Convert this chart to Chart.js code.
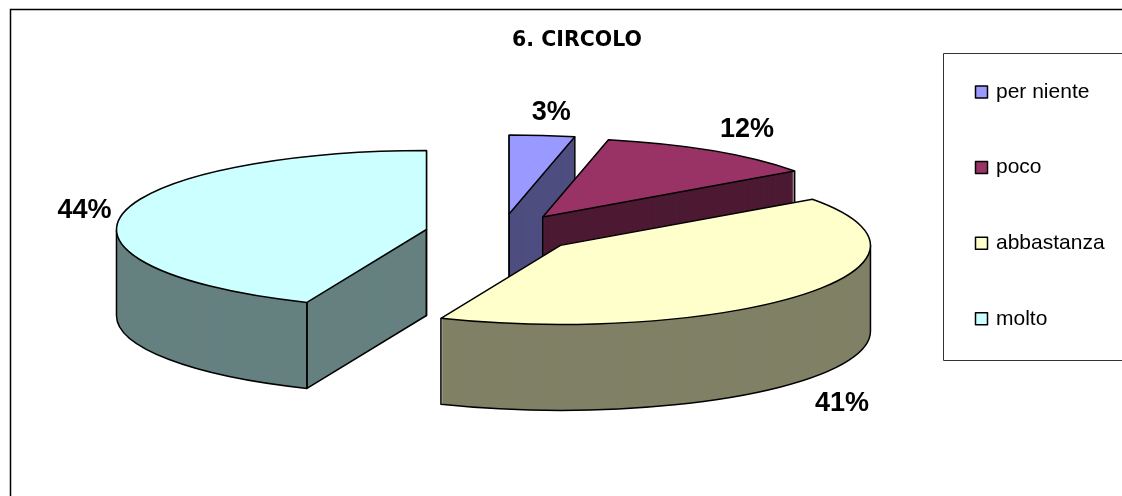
<!DOCTYPE html>
<html>
<head>
<meta charset="utf-8">
<style>html,body{margin:0;padding:0;background:#fff}canvas{display:block}</style>
<script src="https://cdn.jsdelivr.net/npm/chart.js@4"></script>
</head>
<body>
<canvas id="c" width="1122" height="496"></canvas>
<script>
const titleText = '6. CIRCOLO';
const categories = ['per niente', 'poco', 'abbastanza', 'molto'];
const values = [3.4, 11.7, 41.2, 43.7];
const topColors = ['#9999ff', '#993366', '#ffffcc', '#ccffff'];
const sideColors = ['#4d4d80', '#4d1a33', '#808066', '#668080'];

const SQUASH = 0.255, EXPLODE = 76, DEPTH = 86, RADIUS = 310;
const paintOrder = [0, 1, 3, 2];
const labelNudge = [[9, -23], [34, -21], [39, 109], [-38, -3]];
const LINE = '#000';

function geom(arc) {
  const mid = (arc.startAngle + arc.endAngle) / 2;
  return {
    ax: arc.x + Math.cos(mid) * EXPLODE,
    ay: arc.y + Math.sin(mid) * EXPLODE * SQUASH,
    dx: Math.cos(mid) * EXPLODE,
    dy: Math.sin(mid) * EXPLODE,
    mid, rx: arc.outerRadius, ry: arc.outerRadius * SQUASH,
    s: arc.startAngle, e: arc.endAngle
  };
}
function sector(ctx, g, d) {
  ctx.beginPath();
  ctx.moveTo(g.ax, g.ay + d);
  ctx.ellipse(g.ax, g.ay + d, g.rx, g.ry, 0, g.s, g.e);
  ctx.closePath();
}
function rimPoint(g, a) {
  return [g.ax + Math.cos(a) * g.rx, g.ay + Math.sin(a) * g.ry];
}
function strokeWall(ctx, g, a) {
  const p = rimPoint(g, a);
  ctx.beginPath();
  ctx.moveTo(g.ax, g.ay);
  ctx.lineTo(g.ax, g.ay + DEPTH);
  ctx.lineTo(p[0], p[1] + DEPTH);
  ctx.lineTo(p[0], p[1]);
  ctx.stroke();
}

const pie3d = {
  id: 'pie3d',
  beforeDraw(chart) {
    const ctx = chart.ctx;
    ctx.fillStyle = '#fff';
    ctx.fillRect(0, 0, chart.width, chart.height);
    ctx.strokeStyle = LINE;
    ctx.lineWidth = 1.5;
    ctx.beginPath();
    ctx.moveTo(10.5, chart.height);
    ctx.lineTo(10.5, 9.5);
    ctx.lineTo(chart.width, 9.5);
    ctx.stroke();
  },
  afterLayout(chart) {
    const t = chart.titleBlock;
    t.left += 76; t.right += 76;
  },
  beforeDatasetDraw(chart, args) {
    const ctx = chart.ctx;
    const arcs = args.meta.data;
    ctx.lineJoin = 'round';
    paintOrder.forEach(i => {
      const arc = arcs[i], g = geom(arc);
      ctx.fillStyle = sideColors[i];
      for (let d = DEPTH; d >= 1; d--) { sector(ctx, g, d); ctx.fill(); }
      ctx.strokeStyle = LINE;
      ctx.lineWidth = 1.5;
      const fs = Math.max(g.s, 0), fe = Math.min(g.e, Math.PI);
      if (fs < fe) {
        const a = rimPoint(g, fs), b = rimPoint(g, fe);
        ctx.beginPath();
        ctx.moveTo(a[0], a[1]);
        ctx.lineTo(a[0], a[1] + DEPTH);
        ctx.ellipse(g.ax, g.ay + DEPTH, g.rx, g.ry, 0, fs, fe);
        ctx.lineTo(b[0], b[1]);
        ctx.stroke();
      }
      if (Math.cos(g.s) < 1e-6) strokeWall(ctx, g, g.s);
      if (Math.cos(g.e) > -1e-6) strokeWall(ctx, g, g.e);
      ctx.save();
      ctx.translate(arc.x, arc.y);
      ctx.scale(1, SQUASH);
      ctx.translate(-arc.x + g.dx, -arc.y + g.dy);
      arc.draw(ctx);
      ctx.restore();
      sector(ctx, g, 0);
      ctx.strokeStyle = LINE;
      ctx.lineWidth = 1.5;
      ctx.stroke();
    });
    return false;
  },
  afterDraw(chart) {
    const ctx = chart.ctx, arcs = chart.getDatasetMeta(0).data;
    ctx.fillStyle = '#000';
    ctx.font = 'bold 27px "Liberation Sans"';
    ctx.textAlign = 'center';
    ctx.textBaseline = 'middle';
    arcs.forEach((arc, i) => {
      const g = geom(arc), p = rimPoint(g, g.mid);
      ctx.fillText(Math.round(values[i]) + '%', p[0] + labelNudge[i][0], p[1] + labelNudge[i][1]);
    });
    ctx.strokeStyle = '#333';
    ctx.lineWidth = 1;
    ctx.beginPath();
    ctx.moveTo(chart.width, 53.5);
    ctx.lineTo(943.5, 53.5);
    ctx.lineTo(943.5, 360.5);
    ctx.lineTo(chart.width, 360.5);
    ctx.stroke();
    ctx.font = '21px "Liberation Sans"';
    ctx.textAlign = 'left';
    categories.forEach((name, i) => {
      const y = 92 + i * 75.6;
      ctx.fillStyle = topColors[i];
      ctx.fillRect(975.5, y - 6, 12, 12);
      ctx.strokeStyle = '#000';
      ctx.lineWidth = 1.5;
      ctx.strokeRect(975.5, y - 6, 12, 12);
      ctx.fillStyle = '#000';
      ctx.fillText(name, 996, y);
    });
  }
};

new Chart(document.getElementById('c'), {
  type: 'pie',
  data: {
    labels: categories,
    datasets: [{
      data: values,
      backgroundColor: topColors,
      borderWidth: 0,
      radius: RADIUS
    }]
  },
  options: {
    responsive: false,
    animation: false,
    layout: { padding: { left: 0, right: 120, top: 0, bottom: 82 } },
    plugins: {
      legend: { display: false },
      tooltip: { enabled: false },
      title: {
        display: true,
        text: titleText,
        color: '#000',
        font: { family: '"DejaVu Sans"', size: 20.5, weight: 'bold', lineHeight: 1.2 },
        padding: { top: 28, bottom: 0 }
      }
    }
  },
  plugins: [pie3d]
});
</script>
</body>
</html>
